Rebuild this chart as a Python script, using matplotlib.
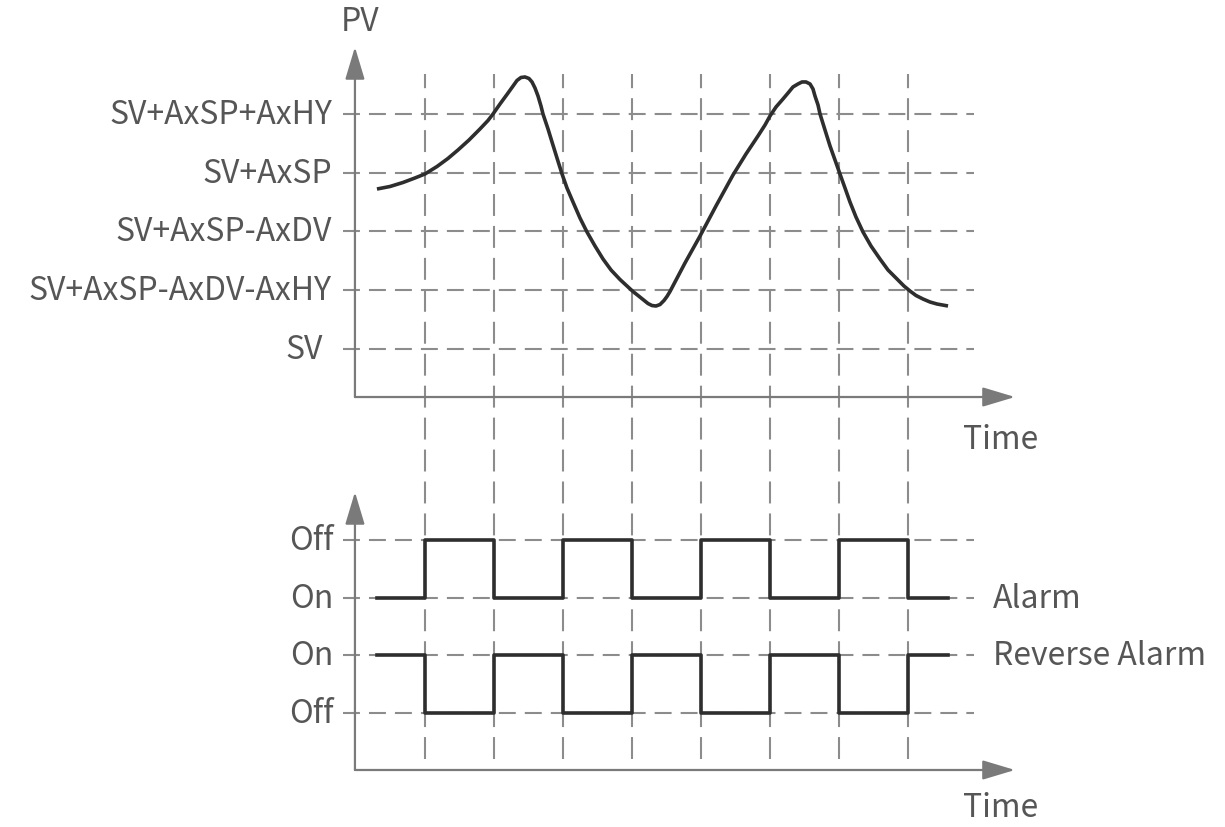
import matplotlib
matplotlib.use('Agg')
import matplotlib.pyplot as plt

plt.rcParams['font.family'] = ['Noto Sans CJK SC', 'DejaVu Sans']
plt.rcParams['lines.scale_dashes'] = False

# PV curve (time in grid units, PV in level units, SV = 0)
pv_time = [0.304, 0.493, 0.681, 0.855, 1.000, 1.174, 1.333, 1.478, 1.638, 1.797, 1.913, 1.986,
           2.087, 2.188, 2.261, 2.333, 2.391, 2.449, 2.507, 2.551, 2.594, 2.638, 2.681, 2.710,
           2.783, 2.841, 2.913, 2.986, 3.058, 3.145, 3.246, 3.348, 3.464, 3.580,
           3.696, 3.826, 3.928, 4.014, 4.087, 4.159, 4.232, 4.290, 4.348, 4.406, 4.464,
           4.507, 4.551,
           4.768, 4.986, 5.217, 5.464, 5.652, 5.826, 5.928, 6.000,
           6.087, 6.188, 6.261, 6.333, 6.406, 6.464, 6.522, 6.580, 6.623, 6.652, 6.696, 6.725,
           6.797, 6.870, 6.942, 7.014, 7.087, 7.159, 7.246, 7.348,
           7.464, 7.594, 7.710, 7.841, 7.942, 8.029, 8.116, 8.217, 8.319, 8.420, 8.580]
pv_value = [2.723, 2.766, 2.834, 2.911, 2.979, 3.106, 3.243, 3.387, 3.557, 3.745, 3.889, 4.000,
            4.170, 4.332, 4.451, 4.570, 4.621, 4.630, 4.604, 4.545, 4.443, 4.306, 4.136, 4.000,
            3.745, 3.523, 3.251, 2.979, 2.740, 2.502, 2.230, 1.991, 1.753, 1.532,
            1.345, 1.183, 1.072, 0.979, 0.911, 0.843, 0.774, 0.740, 0.732, 0.757, 0.826,
            0.894, 0.979,
            1.464, 1.923, 2.434, 2.962, 3.319, 3.626, 3.813, 3.966,
            4.119, 4.255, 4.357, 4.460, 4.511, 4.545, 4.545, 4.511, 4.426, 4.306, 4.153, 4.000,
            3.728, 3.455, 3.217, 2.979, 2.740, 2.502, 2.247, 1.991,
            1.753, 1.532, 1.345, 1.191, 1.072, 0.987, 0.911, 0.851, 0.800, 0.766, 0.732]

pv_levels = [0, 1, 2, 3, 4]
pv_labels = ['SV', 'SV+AxSP-AxDV-AxHY', 'SV+AxSP-AxDV', 'SV+AxSP', 'SV+AxSP+AxHY']

grid_times = [1, 2, 3, 4, 5, 6, 7, 8]

# switch times and output levels (1 = upper line of each trace)
step_time = [0.304, 1, 2, 3, 4, 5, 6, 7, 8, 8.58]
alarm_state = [0, 1, 0, 1, 0, 1, 0, 1, 0, 0]
reverse_state = [1, 0, 1, 0, 1, 0, 1, 0, 1, 1]

out_levels = [3, 2, 1, 0]
out_labels = ['Off', 'On', 'On', 'Off']

grid_c = '#8c8c8c'
axis_c = '#7a7a7a'
line_c = '#2e2e2e'
text_c = '#565656'
fs = 23

fig = plt.figure(figsize=(12.25, 8.28), dpi=100)
ax1 = fig.add_axes([0, 368 / 828, 1, 460 / 828])
ax2 = fig.add_axes([0, 0, 1, 368 / 828])
for ax in (ax1, ax2):
    ax.set_xlim(-5.159, 12.594)
    ax.axis('off')
    ax.patch.set_visible(False)
ax1.set_ylim(-1.872, 5.957)
ax2.set_ylim(-1.976, 4.402)

# grid lines
ax1.hlines(pv_levels, -0.19, 8.96, colors=grid_c, lw=1.5, linestyles=(0, (12.2, 6.5)))
ax2.hlines(out_levels, -0.19, 8.96, colors=grid_c, lw=1.5, linestyles=(0, (12.2, 6.5)))
ax1.vlines(grid_times, -6.98, 4.68, colors=grid_c, lw=1.5,
           linestyles=(0, (15.8, 7.2)), clip_on=False)

# axes with arrows
arr = dict(arrowstyle='-|>,head_length=1.0,head_width=0.3', color=axis_c, lw=1.6,
           shrinkA=0, shrinkB=0, mutation_scale=20)
ax1.annotate('', xy=(-0.015, 5.14), xytext=(-0.015, -0.817), arrowprops=arr)
ax1.annotate('', xy=(9.55, -0.817), xytext=(-0.015, -0.817), arrowprops=arr)
ax2.annotate('', xy=(-0.015, 3.83), xytext=(-0.015, -0.988), arrowprops=arr)
ax2.annotate('', xy=(9.55, -0.988), xytext=(-0.015, -0.988), arrowprops=arr)

# PV curve
ax1.plot(pv_time, pv_value, color=line_c, lw=2.6, solid_joinstyle='round',
         solid_capstyle='butt', zorder=5)

# alarm outputs
ax2.step(step_time, [2 + s for s in alarm_state], where='post', color=line_c, lw=2.6, zorder=5)
ax2.step(step_time, [0 + s for s in reverse_state], where='post', color=line_c, lw=2.6, zorder=5)

# labels
for lv, lab in zip(pv_levels, pv_labels):
    ax1.text(-0.48 if lab == 'SV' else -0.35, lv, lab, ha='right', va='center',
             fontsize=fs, color=text_c)
for lv, lab in zip(out_levels, out_labels):
    ax2.text(-0.33, lv, lab, ha='right', va='center', fontsize=fs, color=text_c)

ax1.text(0.06, 5.58, 'PV', ha='center', va='center', fontsize=fs, color=text_c)
ax1.text(8.80, -1.53, 'Time', ha='left', va='center', fontsize=fs, color=text_c)
ax2.text(8.80, -1.63, 'Time', ha='left', va='center', fontsize=fs, color=text_c)
ax2.text(9.23, 2.0, 'Alarm', ha='left', va='center', fontsize=fs, color=text_c)
ax2.text(9.23, 1.0, 'Reverse Alarm', ha='left', va='center', fontsize=fs, color=text_c)

fig.savefig('out.png', dpi=100)
